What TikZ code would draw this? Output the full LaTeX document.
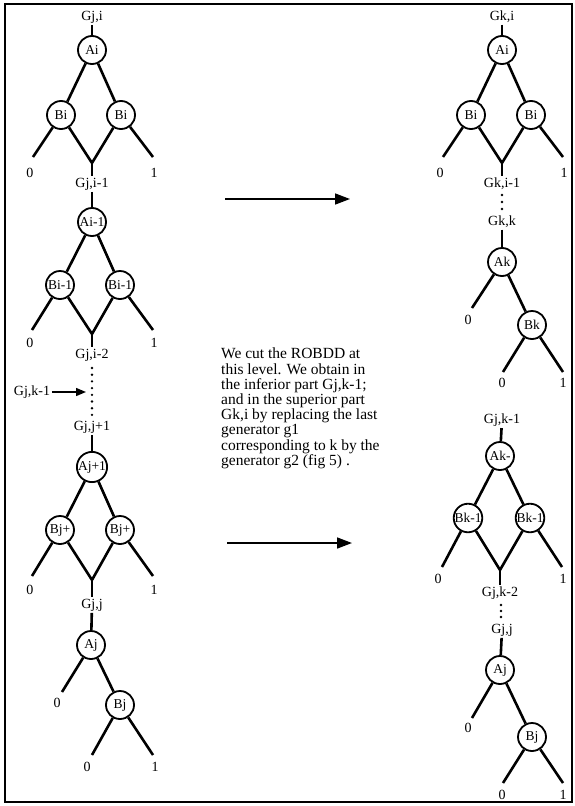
\documentclass[tikz,border=0pt]{standalone}
\usepackage{fontspec}
\setmainfont{Liberation Serif}
\usetikzlibrary{arrows.meta}
\begin{document}
\begin{tikzpicture}[x=1pt,y=-1pt,
  vnode/.style={circle,draw,line width=1.8pt,minimum size=28pt,inner sep=0pt,
    font=\fontsize{13.5}{13.5}\selectfont},
  lbl/.style={inner sep=1.5pt,font=\fontsize{14}{14}\selectfont},
  edge/.style={line width=2.6pt},
  cutarrow/.style={line width=1.6pt,-{Triangle[length=15pt,width=11pt]}},
  dotmark/.style={fill=black,circle,inner sep=0pt,minimum size=2.6pt}
]
\useasboundingbox (0,0) rectangle (574,806);
% frame
\draw[line width=2.4pt] (5,4) rectangle (572,802);

% ---------- left column ----------
% level i
\node[lbl] (lg1) at (92,17) {Gj,i};
\node[vnode] (la1) at (92,50) {Ai};
\node[vnode] (lb1l) at (61,115) {Bi};
\node[vnode] (lb1r) at (121,115) {Bi};
\coordinate (ll1l) at (33,157);
\coordinate (ll1r) at (153,157);
\coordinate (lm1) at (92,163);
\node[lbl] (lz1) at (30,173) {0};
\node[lbl] (lo1) at (154,173) {1};
\draw[edge] (lg1) -- (la1);
\draw[edge] (la1) -- (lb1l);
\draw[edge] (la1) -- (lb1r);
\draw[edge] (lb1l) -- (ll1l);
\draw[edge] (lb1l) -- (lm1);
\draw[edge] (lb1r) -- (lm1);
\draw[edge] (lb1r) -- (ll1r);

% level i-1
\node[lbl] (lg2) at (92,184) {Gj,i-1};
\draw[edge] (lm1) -- (lg2);
\node[vnode] (la2) at (92,222) {Ai-1};
\node[vnode] (lb2l) at (60,285) {Bi-1};
\node[vnode] (lb2r) at (120,285) {Bi-1};
\coordinate (ll2l) at (32,330);
\coordinate (ll2r) at (153,330);
\coordinate (lm2) at (92,334);
\node[lbl] (lz2) at (30,343) {0};
\node[lbl] (lo2) at (154,343) {1};
\draw[edge] (lg2) -- (la2);
\draw[edge] (la2) -- (lb2l);
\draw[edge] (la2) -- (lb2r);
\draw[edge] (lb2l) -- (ll2l);
\draw[edge] (lb2l) -- (lm2);
\draw[edge] (lb2r) -- (lm2);
\draw[edge] (lb2r) -- (ll2r);

% level i-2 and the cut
\node[lbl] (lg3) at (92,355) {Gj,i-2};
\draw[edge] (lm2) -- (lg3);
\foreach \k in {0,...,7}
  \node[dotmark] at (92,368+6.7*\k) {};
\node[lbl] (cut) at (32,392) {Gj,k-1};
\coordinate (cutend) at (86,392);
\draw[line width=1.4pt,-{Triangle[length=10pt,width=8pt]}] (cut) -- (cutend);

% level j+1
\node[lbl] (lg4) at (92,427) {Gj,j+1};
\node[vnode] (la4) at (92,467) {Aj+1};
\node[vnode] (lb4l) at (60,530) {Bj+};
\node[vnode] (lb4r) at (120,530) {Bj+};
\coordinate (ll4l) at (32,576);
\coordinate (ll4r) at (153,576);
\coordinate (lm4) at (92,580);
\node[lbl] (lz4) at (30,590) {0};
\node[lbl] (lo4) at (154,590) {1};
\draw[edge] (lg4) -- (la4);
\draw[edge] (la4) -- (lb4l);
\draw[edge] (la4) -- (lb4r);
\draw[edge] (lb4l) -- (ll4l);
\draw[edge] (lb4l) -- (lm4);
\draw[edge] (lb4r) -- (lm4);
\draw[edge] (lb4r) -- (ll4r);

% level j
\node[lbl] (lg5) at (92,605) {Gj,j};
\draw[edge] (lm4) -- (lg5);
\node[vnode] (la5) at (91,645) {Aj};
\coordinate (ll5a) at (62,692);
\node[lbl] (lz5a) at (57,703) {0};
\node[vnode] (lb5) at (120,705) {Bj};
\coordinate (ll5l) at (92,755);
\coordinate (ll5r) at (153,755);
\node[lbl] (lz5) at (87,767) {0};
\node[lbl] (lo5) at (155,767) {1};
\draw[edge] (lg5) -- (la5);
\draw[edge] (la5) -- (ll5a);
\draw[edge] (la5) -- (lb5);
\draw[edge] (lb5) -- (ll5l);
\draw[edge] (lb5) -- (ll5r);

% ---------- right column ----------
% superior part Gk,i
\node[lbl] (rg1) at (502,17) {Gk,i};
\node[vnode] (ra1) at (502,50) {Ai};
\node[vnode] (rb1l) at (471,115) {Bi};
\node[vnode] (rb1r) at (531,115) {Bi};
\coordinate (rl1l) at (443,157);
\coordinate (rl1r) at (563,157);
\coordinate (rm1) at (502,163);
\node[lbl] (rz1) at (440,173) {0};
\node[lbl] (ro1) at (564,173) {1};
\draw[edge] (rg1) -- (ra1);
\draw[edge] (ra1) -- (rb1l);
\draw[edge] (ra1) -- (rb1r);
\draw[edge] (rb1l) -- (rl1l);
\draw[edge] (rb1l) -- (rm1);
\draw[edge] (rb1r) -- (rm1);
\draw[edge] (rb1r) -- (rl1r);
\node[lbl] (rg2) at (502,184) {Gk,i-1};
\draw[edge] (rm1) -- (rg2);
\foreach \k in {0,1,2}
  \node[dotmark] at (502,195+7*\k) {};

\node[lbl] (rg3) at (502,222) {Gk,k};
\node[vnode] (ra3) at (502,262) {Ak};
\coordinate (rl3a) at (472,308);
\node[lbl] (rz3a) at (468,320) {0};
\node[vnode] (rb3) at (532,325) {Bk};
\coordinate (rl3l) at (503,372);
\coordinate (rl3r) at (563,372);
\node[lbl] (rz3) at (502,383) {0};
\node[lbl] (ro3) at (563,383) {1};
\draw[edge] (rg3) -- (ra3);
\draw[edge] (ra3) -- (rl3a);
\draw[edge] (ra3) -- (rb3);
\draw[edge] (rb3) -- (rl3l);
\draw[edge] (rb3) -- (rl3r);

% inferior part Gj,k-1
\node[lbl] (rg4) at (502,420) {Gj,k-1};
\node[vnode] (ra4) at (500,456) {Ak-};
\node[vnode] (rb4l) at (468,518) {Bk-1};
\node[vnode] (rb4r) at (530,518) {Bk-1};
\coordinate (rl4l) at (442,567);
\coordinate (rl4r) at (562,567);
\coordinate (rm4) at (500,570);
\node[lbl] (rz4) at (438,579) {0};
\node[lbl] (ro4) at (563,579) {1};
\draw[edge] (rg4) -- (ra4);
\draw[edge] (ra4) -- (rb4l);
\draw[edge] (ra4) -- (rb4r);
\draw[edge] (rb4l) -- (rl4l);
\draw[edge] (rb4l) -- (rm4);
\draw[edge] (rb4r) -- (rm4);
\draw[edge] (rb4r) -- (rl4r);
\node[lbl] (rg5) at (500,593) {Gj,k-2};
\draw[edge] (rm4) -- (rg5);
\foreach \k in {0,1,2}
  \node[dotmark] at (501,605+6*\k) {};

\node[lbl] (rg6) at (502,630) {Gj,j};
\node[vnode] (ra6) at (500,670) {Aj};
\coordinate (rl6a) at (472,718);
\node[lbl] (rz6a) at (468,728) {0};
\node[vnode] (rb6) at (532,737) {Bj};
\coordinate (rl6l) at (503,783);
\coordinate (rl6r) at (563,783);
\node[lbl] (rz6) at (502,795) {0};
\node[lbl] (ro6) at (563,795) {1};
\draw[edge] (rg6) -- (ra6);
\draw[edge] (ra6) -- (rl6a);
\draw[edge] (ra6) -- (rb6);
\draw[edge] (rb6) -- (rl6l);
\draw[edge] (rb6) -- (rl6r);

% ---------- middle: arrows and explanation ----------
\coordinate (t1) at (225,199);
\coordinate (t2) at (350,199);
\draw[cutarrow] (t1) -- (t2);
\coordinate (b1) at (227,543);
\coordinate (b2) at (352,543);
\draw[cutarrow] (b1) -- (b2);

\node[anchor=north west,inner sep=0pt,align=left,
  font=\fontsize{15.5}{15.2}\selectfont] (note) at (221,348)
  {We cut the ROBDD at\\
   this level. We obtain in\\
   the inferior part Gj,k-1;\\
   and in the superior part\\
   Gk,i by replacing the last\\
   generator g1\\
   corresponding to k by the\\
   generator g2 (fig 5) .};
\end{tikzpicture}
\end{document}
